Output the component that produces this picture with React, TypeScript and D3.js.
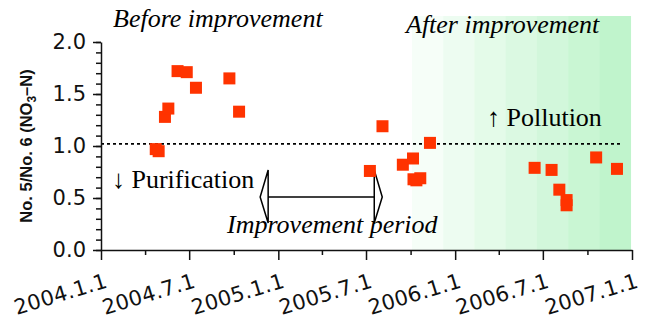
import React, { useEffect, useRef } from "react";
import * as d3 from "d3";

// sampling dates and No.5/No.6 ratio
const pointDates = [
  "2004-04-23", "2004-04-29", "2004-05-12", "2004-05-19", "2004-06-07",
  "2004-06-26", "2004-07-15", "2004-09-22", "2004-10-12",
  "2005-07-09", "2005-08-04", "2005-09-15", "2005-10-06", "2005-10-07",
  "2005-10-13", "2005-10-21", "2005-11-10",
  "2006-06-14", "2006-07-19", "2006-08-04", "2006-08-19", "2006-08-19",
  "2006-10-19", "2006-12-01",
];
const pointValues = [
  0.97, 0.95, 1.28, 1.36, 1.72,
  1.71, 1.56, 1.65, 1.33,
  0.76, 1.19, 0.82, 0.88, 0.68,
  0.67, 0.69, 1.03,
  0.79, 0.77, 0.58, 0.48, 0.43,
  0.89, 0.78,
];

const xTickDates = ["2004-01-01", "2004-07-01", "2005-01-01", "2005-07-01", "2006-01-01", "2006-07-01", "2007-01-01"];
const xTickLabels = ["2004.1.1", "2004.7.1", "2005.1.1", "2005.7.1", "2006.1.1", "2006.7.1", "2007.1.1"];
const xMinorDates = ["2004-04-01", "2004-10-01", "2005-04-01", "2005-10-01", "2006-04-01", "2006-10-01"];
const yTicks = [0, 0.5, 1.0, 1.5, 2.0];

const thresholdValue = 1.02;
const thresholdEnd = "2006-12-13";
const afterStart = "2005-10-04";
const afterEnd = "2006-12-29";
const afterTop = 2.25;
const afterBands = 7;
const periodStart = "2004-12-11";
const periodEnd = "2005-07-18";
const periodValue = 0.51;

const parse = d3.utcParse("%Y-%m-%d");

export default function App() {
  const ref = useRef<SVGSVGElement>(null);

  useEffect(() => {
    const svg = d3.select(ref.current);
    svg.selectAll("*").remove();

    const x = d3.scaleUtc().domain([parse("2004-01-01")!, parse("2007-01-01")!]).range([101, 632]);
    const y = d3.scaleLinear().domain([0, 2]).range([250, 42]);

    // green "after" region, banded
    const x0 = x(parse(afterStart)!), x1 = x(parse(afterEnd)!);
    const bw = (x1 - x0) / afterBands;
    const col = d3.interpolateRgb("#f6fef8", "#c0f4cc");
    svg.append("g")
      .selectAll("rect")
      .data(d3.range(afterBands))
      .join("rect")
      .attr("x", (i) => x0 + i * bw)
      .attr("y", y(afterTop))
      .attr("width", bw + 0.5)
      .attr("height", y(0) - y(afterTop))
      .attr("fill", (i) => col(i / (afterBands - 1)));

    // dashed threshold
    svg.append("line")
      .attr("x1", x(parse("2004-01-01")!))
      .attr("x2", x(parse(thresholdEnd)!))
      .attr("y1", y(thresholdValue))
      .attr("y2", y(thresholdValue))
      .attr("stroke", "#000")
      .attr("stroke-width", 1.6)
      .attr("stroke-dasharray", "3,3");

    // y axis
    const yMinor = svg.append("g").attr("transform", "translate(101,0)")
      .call(d3.axisLeft(y).tickValues(d3.range(0, 2.01, 0.1)).tickSize(5).tickFormat(() => ""));
    yMinor.select(".domain").remove();
    const yAxis = svg.append("g").attr("transform", "translate(101,0)")
      .call(d3.axisLeft(y).tickValues(yTicks).tickSize(8).tickSizeOuter(0).tickPadding(7).tickFormat(d3.format(".1f")));
    yAxis.selectAll("text").attr("font-family", "DejaVu Sans").attr("font-size", 21).attr("fill", "#111");

    // x axis
    const xMinor = svg.append("g").attr("transform", "translate(0,250)")
      .call(d3.axisBottom(x).tickValues(xMinorDates.map((d) => parse(d)!)).tickSize(5).tickFormat(() => ""));
    xMinor.select(".domain").remove();
    const xAxis = svg.append("g").attr("transform", "translate(0,250)")
      .call(d3.axisBottom(x).tickValues(xTickDates.map((d) => parse(d)!)).tickSize(10).tickSizeOuter(0)
        .tickFormat((d, i) => xTickLabels[i]));
    xAxis.selectAll("text")
      .attr("font-family", "DejaVu Sans")
      .attr("font-size", 21)
      .attr("letter-spacing", 0.3)
      .attr("fill", "#111")
      .attr("text-anchor", "end")
      .attr("y", 0)
      .attr("dy", 0)
      .attr("transform", "translate(7,37) rotate(-17)");

    svg.selectAll(".domain, .tick line").attr("stroke", "#111").attr("stroke-width", 1.5);

    // improvement period arrow
    const ay = y(periodValue);
    const pa = x(parse(periodStart)!), pb = x(parse(periodEnd)!);
    const arrow = svg.append("g").attr("fill", "none").attr("stroke", "#000").attr("stroke-width", 1.5);
    arrow.append("line").attr("x1", pa).attr("x2", pb).attr("y1", ay).attr("y2", ay);
    arrow.append("path").attr("d", `M${pa},${ay - 27}L${pa - 8},${ay}L${pa},${ay + 26}Z`);
    arrow.append("path").attr("d", `M${pb},${ay - 27}L${pb + 8},${ay}L${pb},${ay + 26}Z`);

    // points
    const s = 12;
    svg.append("g")
      .selectAll("rect")
      .data(pointDates.map((d, i) => ({ date: parse(d)!, value: pointValues[i] })))
      .join("rect")
      .attr("x", (d) => x(d.date) - s / 2)
      .attr("y", (d) => y(d.value) - s / 2)
      .attr("width", s)
      .attr("height", s)
      .attr("fill", "#ff3300");

    // annotations
    const serif = "'Liberation Serif', 'Times New Roman', serif";
    const notes = [
      { t: "Before improvement", x: 113, y: 27, italic: true },
      { t: "After improvement", x: 406, y: 33, italic: true },
      { t: "\u2191 Pollution", x: 487, y: 126, italic: false },
      { t: "\u2193 Purification", x: 112, y: 188, italic: false },
      { t: "Improvement period", x: 227, y: 233, italic: true },
    ];
    svg.append("g")
      .selectAll("text")
      .data(notes)
      .join("text")
      .attr("x", (d) => d.x)
      .attr("y", (d) => d.y)
      .attr("font-family", serif)
      .attr("font-size", 26)
      .attr("font-style", (d) => (d.italic ? "italic" : "normal"))
      .attr("fill", "#000")
      .text((d) => d.t);

    // y label
    const yl = svg.append("text")
      .attr("transform", "translate(26,146) rotate(-90)")
      .attr("text-anchor", "middle")
      .attr("dy", "0.35em")
      .attr("font-family", "'Liberation Sans', Arial, sans-serif")
      .attr("font-weight", "bold")
      .attr("font-size", 16.5)
      .attr("fill", "#111");
    yl.append("tspan").text("No. 5/No. 6 (NO");
    yl.append("tspan").attr("dy", 4).attr("font-size", 12).text("3");
    yl.append("tspan").attr("dy", -4).text("\u2013N)");
  }, []);

  return (
    <svg ref={ref} width={648} height={320} style={{ position: "absolute", left: 0, top: 0, background: "#fff" }} />
  );
}
